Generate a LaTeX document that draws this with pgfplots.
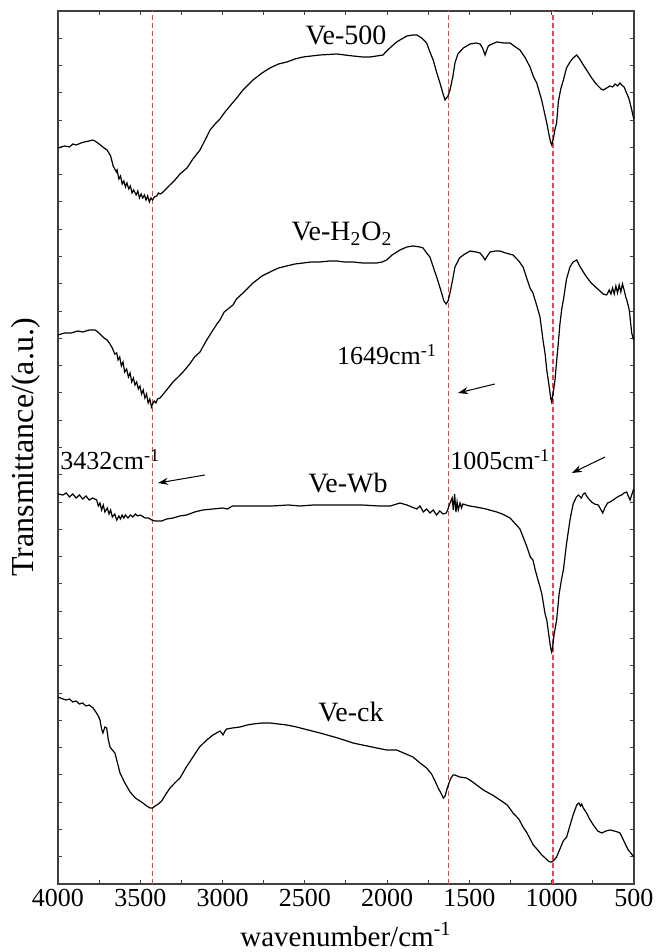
\documentclass[border=0pt]{standalone}
\usepackage{fontspec}
\setmainfont{Liberation Serif}
\usepackage{pgfplots}
\pgfplotsset{compat=1.18}
\usetikzlibrary{arrows.meta,calc}
\newcommand\fs[1]{\fontsize{#1}{#1}\selectfont}
\definecolor{vline}{RGB}{255,60,60}
\begin{document}
\begin{tikzpicture}
\begin{axis}[
width=288pt,height=436.5pt,scale only axis,
xmin=500,xmax=4000,x dir=reverse,
ymin=0,ymax=873,
xtick={500,1000,...,4000},minor x tick num=1,
xticklabels={500,1000,1500,2000,2500,3000,3500,4000},
ytick={0,27.28125,...,873},yticklabels={},
tick align=inside,major tick length=2pt,minor tick length=2pt,
tick style={black!75,line width=0.5pt},
axis line style={black!75,line width=0.7pt},
xticklabel style={font={\fontsize{13pt}{13pt}\selectfont},inner sep=2.5pt},
xlabel={wavenumber/cm\textsuperscript{-1}},
ylabel={Transmittance/(a.u.)},
xlabel style={font=\fs{14.5pt},at={(axis description cs:0.5,-0.058)},anchor=center},
ylabel style={font=\fs{16pt},at={(axis description cs:-0.056,0.5)},anchor=center},
clip=false]

% marker lines
\addplot[vline,dashed,line width=0.65pt,dash pattern=on 2.5pt off 1.5pt] coordinates {(3425,0) (3425,873)};
\addplot[vline,dashed,line width=0.65pt,dash pattern=on 2.5pt off 1.5pt] coordinates {(1628,0) (1628,873)};
\addplot[vline,dashed,line width=0.65pt,dash pattern=on 2.5pt off 1.5pt] coordinates {(992,0) (992,873)};

% Ve-500
\addplot[black,line width=0.6pt] coordinates {
(4000,736) (3960,738) (3930,737) (3910,740) (3890,739) (3860,741) (3840,742) (3810,743) (3790,744) (3775,743)
(3750,740) (3720,736) (3702,734) (3680,728) (3665,718) (3655,715) (3645,712) (3641,714) (3630,705) (3620,708)
(3610,700) (3600,703) (3590,697) (3581,701) (3570,695) (3560,698) (3550,691) (3540,694) (3525,689) (3515,693)
(3505,686) (3495,690) (3485,686) (3475,689) (3465,684) (3455,688) (3445,682) (3435,686) (3425,684) (3415,687)
(3400,688) (3390,691) (3380,690) (3368,691) (3350,694) (3320,699) (3289,704) (3259,710) (3216,716) (3180,725)
(3137,734) (3100,746) (3076,754) (3040,761) (3016,765) (2990,771) (2950,779) (2914,786) (2876,794) (2815,804)
(2760,811) (2712,816) (2660,820) (2610,822) (2560,825) (2511,827) (2460,828) (2408,829) (2307,830) (2207,828)
(2150,827) (2104,827) (2063,828) (2025,829) (2003,833) (1970,838) (1942,842) (1922,844) (1880,848) (1843,849)
(1820,849) (1790,846) (1760,841) (1740,832) (1720,824) (1700,812) (1679,801) (1660,790) (1648,784) (1640,786)
(1630,788) (1618,794) (1600,808) (1588,821) (1570,830) (1537,836) (1496,840) (1460,841) (1436,840) (1420,836)
(1405,829) (1399,832) (1385,838) (1375,839) (1334,842) (1290,841) (1253,841) (1220,837) (1193,834) (1160,826)
(1132,817) (1110,807) (1091,801) (1075,792) (1061,784) (1045,772) (1030,761) (1015,748) (1005,741) (1000,739)
(990,745) (980,755) (970,761) (960,782) (945,795) (929,804) (910,816) (889,822) (870,826) (848,829)
(830,825) (808,819) (780,812) (757,806) (730,800) (700,795) (687,794) (666,796) (646,798) (630,797)
(615,800) (600,798) (585,801) (575,799) (560,797) (545,791) (530,785) (515,775) (504,767) (500,765)};

% Ve-H2O2
\addplot[black,line width=0.6pt] coordinates {
(4000,549) (3960,551) (3920,551) (3880,553) (3850,552) (3810,554) (3775,554) (3765,553) (3745,550) (3720,546)
(3702,544) (3684,540) (3670,536) (3655,530) (3643,531) (3635,524) (3625,527) (3615,518) (3605,522) (3595,512)
(3583,515) (3572,507) (3562,511) (3552,502) (3542,506) (3532,499) (3522,502) (3512,495) (3502,498) (3492,490)
(3482,494) (3472,486) (3462,490) (3452,481) (3442,485) (3432,477) (3425,480) (3415,483) (3405,481) (3395,485)
(3380,486) (3360,490) (3340,494) (3301,502) (3270,507) (3240,512) (3200,520) (3170,527) (3137,532) (3100,543)
(3058,554) (3030,561) (3016,564) (2990,572) (2960,576) (2937,579) (2915,585) (2876,591) (2815,601) (2760,608)
(2712,612) (2660,616) (2610,618) (2560,620) (2511,621) (2460,622) (2408,622) (2350,623) (2307,623) (2260,622)
(2207,622) (2150,621) (2063,621) (2030,622) (2003,624) (1970,629) (1922,634) (1880,637) (1843,638) (1800,637)
(1782,636) (1760,631) (1740,627) (1720,617) (1699,607) (1680,597) (1669,591) (1655,583) (1642,580) (1630,583)
(1618,591) (1600,606) (1588,617) (1560,626) (1537,629) (1496,633) (1460,632) (1436,631) (1420,628) (1405,624)
(1395,627) (1375,632) (1340,633) (1314,633) (1280,631) (1235,629) (1200,623) (1174,617) (1150,605) (1132,596)
(1114,591) (1090,578) (1071,567) (1053,544) (1040,530) (1030,514) (1015,497) (1005,485) (1000,482) (990,492)
(980,504) (970,523) (962,537) (950,560) (939,575) (929,584) (910,605) (889,617) (870,622) (848,624)
(830,618) (808,612) (788,607) (760,601) (727,596) (700,592) (687,590) (666,589) (650,594) (640,590)
(630,596) (620,590) (610,598) (600,591) (590,599) (580,592) (570,600) (560,594) (550,587) (544,584)
(530,575) (524,567) (514,551) (504,545) (500,544)};

% Ve-Wb
\addplot[black,line width=0.6pt] coordinates {
(4000,390) (3970,389) (3950,391) (3930,387) (3910,390) (3890,386) (3870,389) (3850,385) (3830,388) (3810,384)
(3790,386) (3765,384) (3755,378) (3745,381) (3735,374) (3725,379) (3715,372) (3700,376) (3690,370) (3680,374)
(3670,367) (3655,370) (3643,364) (3630,368) (3620,365) (3610,369) (3600,366) (3590,369) (3575,366) (3560,369)
(3545,367) (3530,370) (3515,368) (3502,369) (3490,368) (3470,366) (3450,366) (3430,364) (3410,363) (3390,363)
(3370,363) (3340,365) (3300,366) (3260,368) (3218,369) (3170,372) (3120,374) (3058,375) (3000,376) (2970,375)
(2940,378) (2894,378) (2800,378) (2700,378) (2600,379) (2529,378) (2450,379) (2350,379) (2226,379) (2150,379)
(2050,378) (1980,378) (1922,381) (1880,379) (1850,377) (1820,375) (1800,378) (1780,372) (1760,375) (1740,371)
(1720,374) (1700,369) (1680,373) (1660,370) (1640,371) (1630,375) (1620,380) (1605,386) (1598,374) (1590,390)
(1582,372) (1575,382) (1568,374) (1557,381) (1548,376) (1540,380) (1520,379) (1500,378) (1460,377) (1400,375)
(1334,372) (1300,370) (1253,366) (1220,360) (1193,355) (1174,347) (1150,337) (1130,327) (1114,324) (1100,314)
(1085,305) (1071,297) (1060,290) (1050,280) (1040,270) (1030,264) (1020,252) (1010,240) (1005,235) (1000,232)
(995,236) (985,250) (970,264) (955,290) (940,305) (929,314) (910,340) (889,364) (870,380) (850,387)
(838,389) (820,386) (808,390) (798,391) (780,386) (757,382) (740,380) (717,379) (700,374) (690,371)
(675,377) (660,381) (646,382) (626,384) (610,386) (590,388) (575,389) (560,391) (544,392) (535,388)
(524,384) (514,389) (504,394) (500,393)};

% Ve-ck
\addplot[black,line width=0.6pt] coordinates {
(4000,187) (3970,185) (3950,184) (3930,185) (3910,182) (3890,183) (3870,180) (3850,181) (3830,178) (3810,179)
(3787,176) (3770,172) (3755,168) (3745,164) (3735,155) (3727,151) (3715,157) (3704,156) (3695,145) (3684,137)
(3670,134) (3654,131) (3640,122) (3623,111) (3600,103) (3583,98) (3562,92) (3530,86) (3502,83) (3484,81)
(3461,78) (3440,76) (3425,76) (3410,78) (3390,80) (3370,83) (3340,91) (3319,96) (3290,101) (3259,106)
(3220,117) (3180,127) (3140,137) (3096,144) (3058,149) (3016,153) (3005,151) (2997,149) (2985,153) (2975,155)
(2940,156) (2894,157) (2850,159) (2815,160) (2760,161) (2712,161) (2660,160) (2610,159) (2550,157) (2480,154)
(2408,151) (2300,146) (2207,141) (2150,139) (2063,136) (2003,134) (1942,134) (1900,131) (1843,127) (1800,121)
(1760,116) (1730,110) (1712,104) (1690,96) (1670,90) (1659,86) (1648,88) (1638,94) (1628,99) (1615,105)
(1600,109) (1588,109) (1560,107) (1517,106) (1480,102) (1440,97) (1416,94) (1360,89) (1314,84) (1270,79)
(1235,71) (1200,65) (1174,57) (1150,51) (1112,39) (1090,35) (1060,29) (1040,26) (1020,23) (1010,22)
(1000,22) (985,24) (970,27) (950,35) (930,43) (909,47) (890,58) (870,69) (848,79) (835,81)
(825,78) (818,80) (808,76) (788,71) (770,65) (747,59) (720,53) (696,51) (670,53) (646,54)
(620,53) (600,52) (585,51) (570,46) (550,39) (535,34) (524,32) (510,29) (500,27)};

% curve names
\node[font=\fs{14pt},anchor=base] at (axis cs:2250,839) {Ve-500};
\node[font=\fs{14pt},anchor=base] at (axis cs:2274,643) {Ve-H\textsubscript{2}O\textsubscript{2}};
\node[font=\fs{14pt},anchor=base] at (axis cs:2238,391) {Ve-Wb};
\node[font=\fs{14pt},anchor=base] at (axis cs:2220,162) {Ve-ck};

% band annotations
\node[font=\fs{13pt},anchor=base west,inner sep=0pt] at (axis cs:3988,414) {3432cm\textsuperscript{-1}};
\node[font=\fs{13pt},anchor=base west,inner sep=0pt] at (axis cs:2307,519) {1649cm\textsuperscript{-1}};
\node[font=\fs{13pt},anchor=base west,inner sep=0pt] at (axis cs:1618,414) {1005cm\textsuperscript{-1}};
\draw[-{Stealth[length=5pt,width=3.5pt]},line width=0.5pt] (axis cs:3107,409) -- (axis cs:3392,401);
\draw[-{Stealth[length=5pt,width=3.5pt]},line width=0.5pt] (axis cs:1345,500) -- (axis cs:1569,491);
\draw[-{Stealth[length=5pt,width=3.5pt]},line width=0.5pt] (axis cs:676,427) -- (axis cs:877,411);
\end{axis}
\pgfresetboundingbox
\path[use as bounding box] ($(current axis.south west)+(-29pt,-34pt)$) rectangle ($(current axis.north east)+(11pt,5.5pt)$);
\end{tikzpicture}
\end{document}
